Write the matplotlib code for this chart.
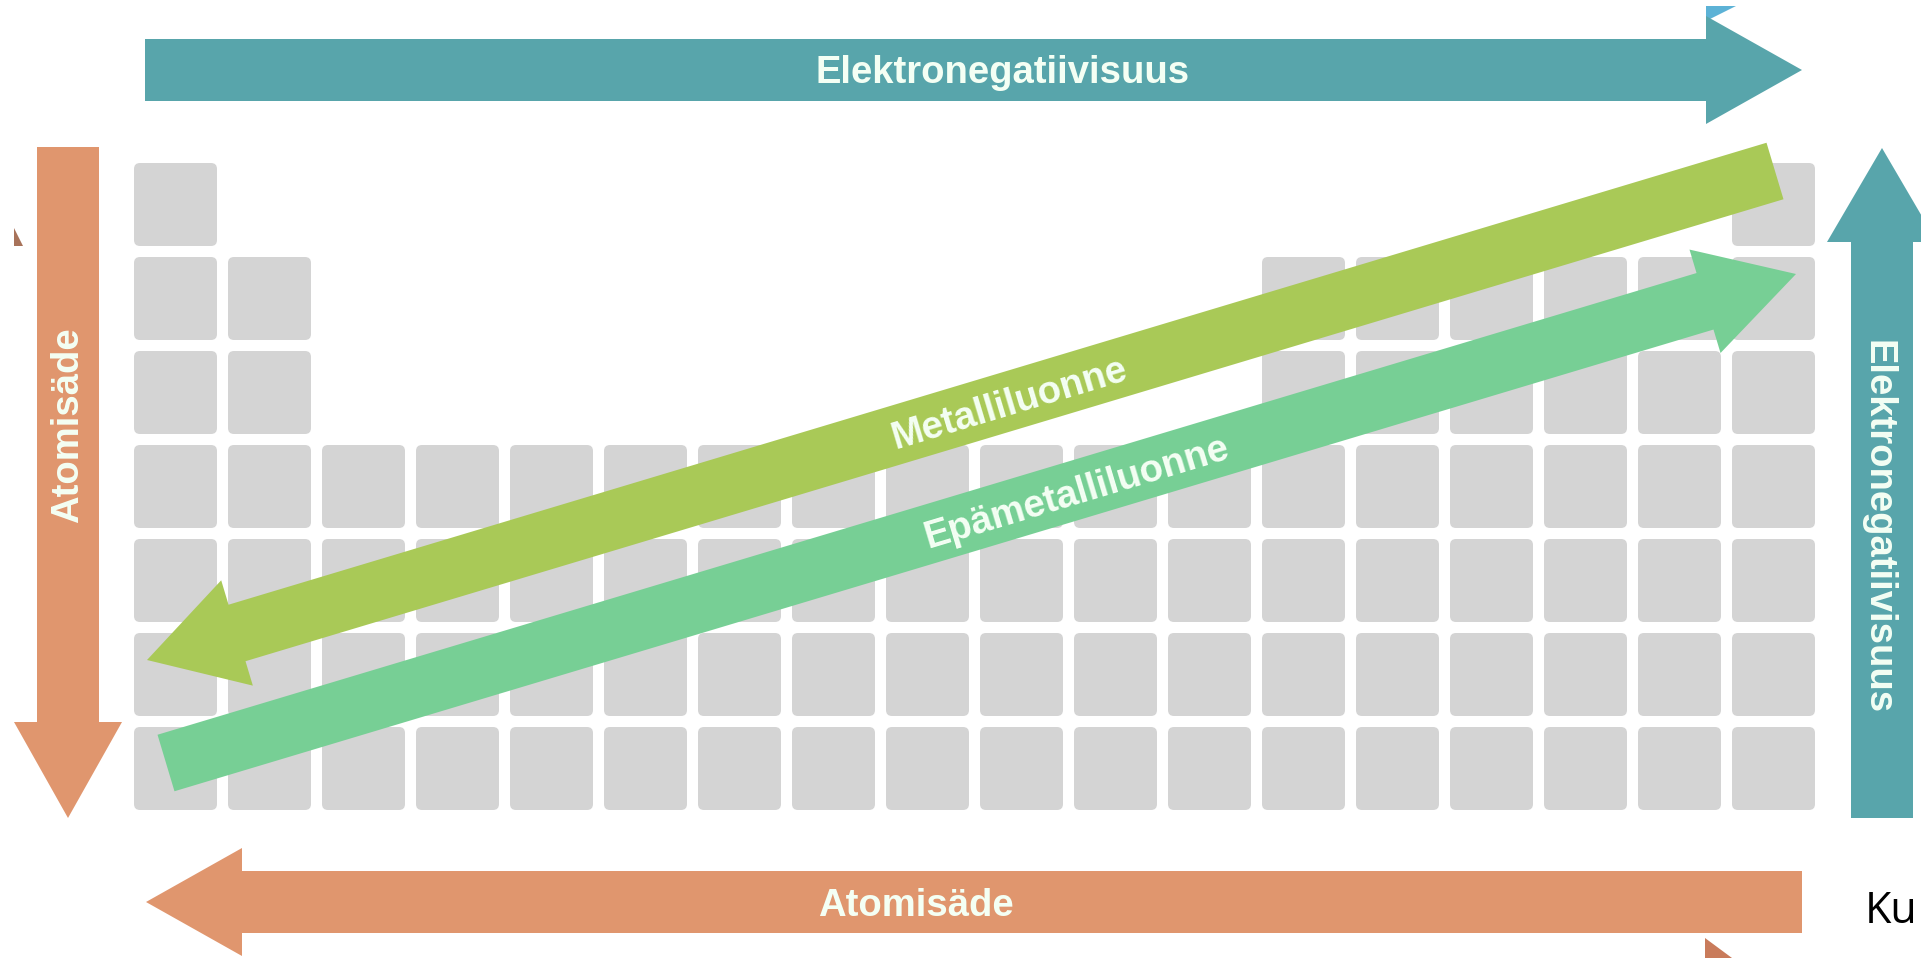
import numpy as np
import matplotlib
matplotlib.use("Agg")
from matplotlib import pyplot as plt
from matplotlib.patches import FancyBboxPatch, Polygon

# periodic table layout: which groups (columns) are filled in each period (row)
main_groups = [1, 2] + list(range(13, 19))
all_groups = list(range(1, 19))
period_groups = [
    [1, 18],
    main_groups,
    main_groups,
    all_groups,
    all_groups,
    all_groups,
    all_groups,
]

# trend arrow labels
label_top = "Elektronegatiivisuus"
label_right = "Elektronegatiivisuus"
label_left = "Atomisäde"
label_bottom = "Atomisäde"
label_metal = "Metalliluonne"
label_nonmetal = "Epämetalliluonne"
caption = "Ku"

TEAL = "#58a5ab"
ORANGE = "#e0966e"
LIME = "#a9c957"
GREEN = "#77cf95"
CELL = "#d4d4d4"
TXT = "#f4fff4"

W, H = 1921, 958
CELL_X0, CELL_Y0, PITCH, SIZE = 134, 163, 94, 83
BODY, HEAD_W, HEAD_L = 62, 108, 96
FS = 27.5


def arrow(ax, tail, tip, color, body=BODY, head_w=HEAD_W, head_l=HEAD_L):
    t = np.array(tail, float)
    p = np.array(tip, float)
    d = p - t
    u = d / np.hypot(*d)
    n = np.array([-u[1], u[0]])
    b = p - u * head_l
    pts = [t + n * body / 2, b + n * body / 2, b + n * head_w / 2, p,
           b - n * head_w / 2, b - n * body / 2, t - n * body / 2]
    ax.add_patch(Polygon(pts, closed=True, fc=color, ec="none", zorder=3))


fig = plt.figure(figsize=(W / 100, H / 100), dpi=100)
ax = fig.add_axes([0, 0, 1, 1])
ax.set_xlim(0, W)
ax.set_ylim(H, 0)
ax.axis("off")

# grey element cells
for row, groups in enumerate(period_groups):
    for g in groups:
        x = CELL_X0 + (g - 1) * PITCH
        y = CELL_Y0 + row * PITCH
        ax.add_patch(FancyBboxPatch((x, y), SIZE, SIZE,
                                    boxstyle="round,pad=0,rounding_size=6",
                                    fc=CELL, ec="none", zorder=1))

# straight arrows
arrow(ax, (145, 70), (1802, 70), TEAL)
arrow(ax, (68, 147), (68, 818), ORANGE)
arrow(ax, (1802, 902), (146, 902), ORANGE)
arrow(ax, (1882, 818), (1882, 148), TEAL, head_w=110, head_l=94)

# diagonal arrows
arrow(ax, (1775, 171), (147, 660), LIME, body=59, head_w=110, head_l=94)
arrow(ax, (166, 763), (1796, 274), GREEN, body=59, head_w=108, head_l=95)

# bits of neighbouring arrows cut by the image edge
ax.add_patch(Polygon([(1706, 6), (1736, 6), (1706, 21)], fc="#5cb2d6", ec="none", zorder=2))
ax.add_patch(Polygon([(14, 228), (23, 246), (14, 246)], fc="#a8735a", ec="none", zorder=2))
ax.add_patch(Polygon([(1705, 938), (1732, 958), (1705, 958)], fc="#c97b5b", ec="none", zorder=2))

font = dict(family="Liberation Sans", weight="bold", size=FS, color=TXT, zorder=5)
ax.text(1003, 83, label_top, ha="center", va="baseline", **font)
ax.text(916, 916, label_bottom, ha="center", va="baseline", **font)
ax.text(78, 425, label_left, ha="center", va="baseline", rotation=90,
        rotation_mode="anchor", **font)
ax.text(1868, 527, label_right, ha="center", va="baseline", rotation=-90,
        rotation_mode="anchor", **font)

ang = np.degrees(np.arctan2(489, 1628))
off = 13.5 * np.array([np.sin(np.radians(ang)), np.cos(np.radians(ang))])
ax.text(1009 + off[0], 401 + off[1], label_metal, ha="center", va="baseline",
        rotation=ang, rotation_mode="anchor", **font)
ax.text(1076 + off[0], 490 + off[1], label_nonmetal, ha="center", va="baseline",
        rotation=ang, rotation_mode="anchor", **font)

ax.text(1865, 923, caption, ha="left", va="baseline", family="Open Sans",
        size=31, color="black", zorder=5)

fig.savefig("out.png", dpi=100)
